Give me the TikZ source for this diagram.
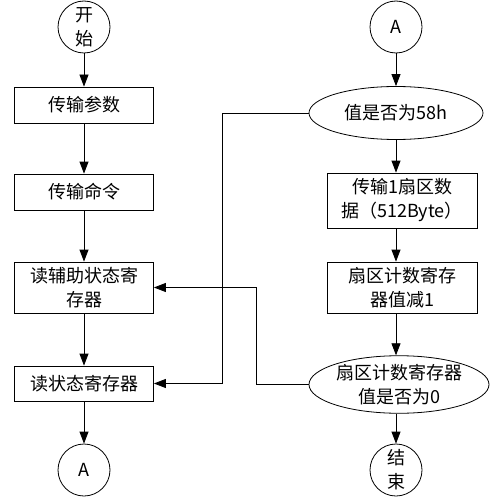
\documentclass[tikz,border=0pt]{standalone}
\usepackage{fontspec}
\setmainfont{Noto Sans CJK SC}
\usetikzlibrary{arrows.meta,positioning,shapes.geometric}

\begin{document}
\begin{tikzpicture}[
    x=1pt, y=-1pt,
    font=\fontsize{18}{24}\selectfont,
    >={Triangle[length=12pt,width=9pt]},
    line width=0.8pt,
    box/.style={
        draw,
        rectangle,
        minimum width=139pt,
        minimum height=36pt,
        align=center,
        inner sep=1pt
    },
    term/.style={
        draw,
        circle,
        minimum size=52pt,
        align=center,
        inner sep=0pt
    },
    test/.style={
        draw,
        ellipse,
        minimum width=#1,
        minimum height=52pt,
        align=center,
        inner sep=0pt
    }
]
\useasboundingbox (0,0) rectangle (498,500);

% =========================================================
% left column
% =========================================================
\node[term] (start) at (84,27) {开\\始};
\node[box] (par) at (84,105) {传输参数};
\node[box] (cmd) at (84,192) {传输命令};
\node[box, minimum height=51pt] (aux) at (84,287.5) {读辅助状态寄\\存器};
\node[box, minimum height=35pt] (sta) at (84,383.5) {读状态寄存器};
\node[term] (conA) at (84,470) {A};

\draw[->] (start.south) -- (par.north);
\draw[->] (par.south) -- (cmd.north);
\draw[->] (cmd.south) -- (aux.north);
\draw[->] (aux.south) -- (sta.north);
\draw[->] (sta.south) -- (conA.north);

% =========================================================
% right column
% =========================================================
\node[term] (inA) at (396,27) {A};
\node[test=174pt, minimum height=53pt] (chk) at (396,113) {值是否为58h};
\node[box, minimum width=150pt, minimum height=55pt] (xfer) at (402,200.5) {传输1扇区数\\据（512Byte）};
\node[box, minimum width=150pt, minimum height=51pt] (dec) at (402,287.5) {扇区计数寄存\\器值减1};
\node[test=180pt, minimum height=51pt] (zero) at (399,384.5) {扇区计数寄存器\\值是否为0};
\node[term] (stop) at (396,470) {结\\束};

\draw[->] (inA.south) -- (chk.north);
\draw[->] (chk.south) -- (chk.south |- xfer.north);
\draw[->] (chk.south |- xfer.south) -- (chk.south |- dec.north);
\draw[->] (chk.south |- dec.south) -- (chk.south |- zero.north);
\draw[->] (chk.south |- zero.south) -- (stop.north);

% loops back to the left column
\draw[->] (chk.west) -- ++(-86,0) |- (sta.east);
\draw[->] (zero.west) -- ++(-52,0) |- (aux.east);

\end{tikzpicture}
\end{document}
